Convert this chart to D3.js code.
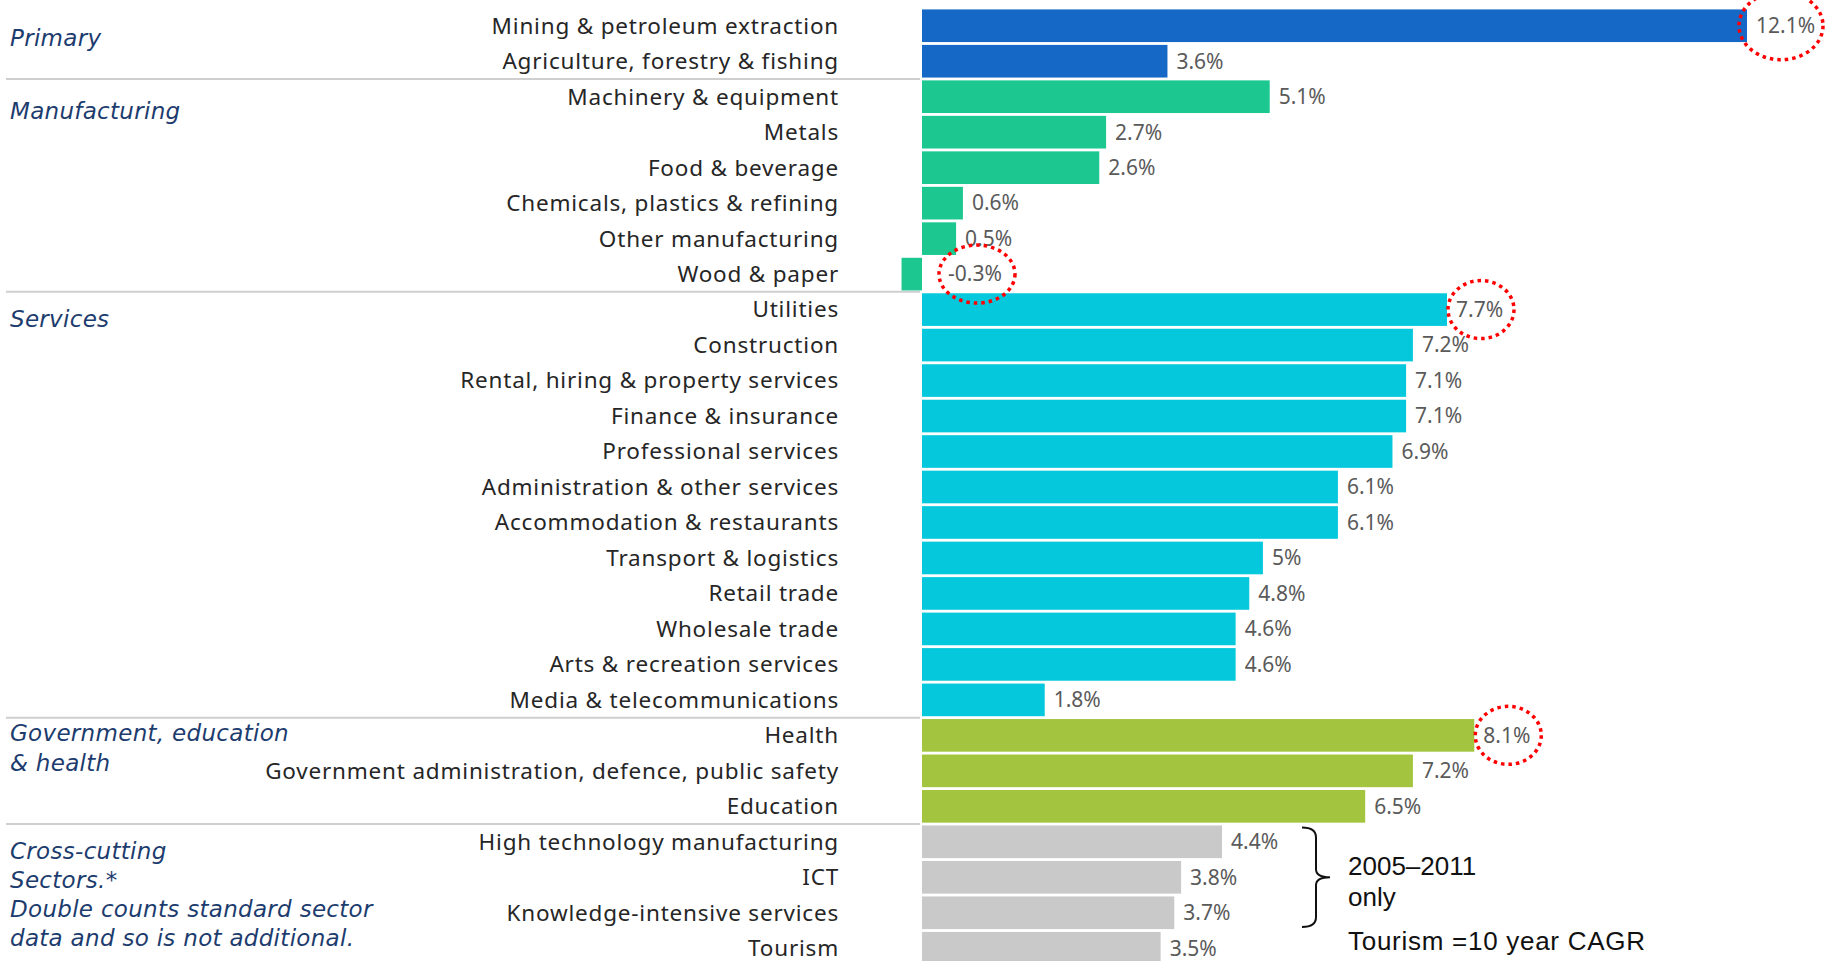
<!DOCTYPE html>
<html>
<head>
<meta charset="utf-8">
<script src="https://cdn.jsdelivr.net/npm/d3@7/dist/d3.min.js"></script>
<style>
  body { margin: 0; background: #fff; }
  svg { display: block; }
</style>
</head>
<body>
<div id="chart"></div>
<script>
// growth rates by sector (CAGR %)
const sectors = [
  "Mining & petroleum extraction", "Agriculture, forestry & fishing",
  "Machinery & equipment", "Metals", "Food & beverage", "Chemicals, plastics & refining",
  "Other manufacturing", "Wood & paper",
  "Utilities", "Construction", "Rental, hiring & property services", "Finance & insurance",
  "Professional services", "Administration & other services", "Accommodation & restaurants",
  "Transport & logistics", "Retail trade", "Wholesale trade", "Arts & recreation services",
  "Media & telecommunications",
  "Health", "Government administration, defence, public safety", "Education",
  "High technology manufacturing", "ICT", "Knowledge-intensive services", "Tourism"
]
const values = [12.1, 3.6, 5.1, 2.7, 2.6, 0.6, 0.5, -0.3, 7.7, 7.2, 7.1, 7.1, 6.9, 6.1, 6.1, 5, 4.8, 4.6, 4.6, 1.8, 8.1, 7.2, 6.5, 4.4, 3.8, 3.7, 3.5]
const groupOf = [0, 0, 1, 1, 1, 1, 1, 1, 2, 2, 2, 2, 2, 2, 2, 2, 2, 2, 2, 2, 3, 3, 3, 4, 4, 4, 4]
const groupNames = [
  ["Primary"],
  ["Manufacturing"],
  ["Services"],
  ["Government, education", "& health"],
  ["Cross-cutting", "Sectors.*", "Double counts standard sector", "data and so is not additional."]
]
const groupColors = ["#1668c6", "#1cc890", "#06c8dc", "#a2c43e", "#c9c9c9"]
const highlighted = ["Mining & petroleum extraction", "Wood & paper", "Utilities", "Health"]
const bracketRows = ["High technology manufacturing", "Knowledge-intensive services"]
const noteLines = ["2005–2011", "only"]
const tourismNote = "Tourism =10 year CAGR"

const width = 1829, height = 961
const svg = d3.select("#chart").append("svg")
  .attr("width", width)
  .attr("height", height)

const x = d3.scaleLinear().domain([0, 12.1]).range([922, 1747])
const y = d3.scaleBand().domain(sectors).range([8, 966]).paddingInner(0.08).paddingOuter(0.04)
const step = y.step()

const rows = sectors.map((s, i) => ({name: s, value: values[i], group: groupOf[i]}))

// separators between groups
const sepRows = rows.filter((d, i) => i > 0 && d.group !== rows[i - 1].group)
svg.append("g")
  .selectAll("line")
  .data(sepRows)
  .join("line")
  .attr("x1", 6)
  .attr("x2", x(0) - 2)
  .attr("y1", d => y(d.name) - step * 0.04)
  .attr("y2", d => y(d.name) - step * 0.04)
  .attr("stroke", "#cfcfcf")
  .attr("stroke-width", 2)

// bars
svg.append("g")
  .selectAll("rect")
  .data(rows)
  .join("rect")
  .attr("x", d => x(Math.min(0, d.value)))
  .attr("width", d => Math.abs(x(d.value) - x(0)))
  .attr("y", d => y(d.name))
  .attr("height", y.bandwidth())
  .attr("fill", d => groupColors[d.group])

// category labels
svg.append("g")
  .attr("font-family", "'Noto Sans', sans-serif")
  .attr("font-size", 22.5)
  .attr("letter-spacing", 0.8)
  .attr("fill", "#262626")
  .attr("text-anchor", "end")
  .selectAll("text")
  .data(rows)
  .join("text")
  .attr("x", 839)
  .attr("y", d => y(d.name) + y.bandwidth() / 2)
  .attr("dy", "0.35em")
  .text(d => d.name)

// value labels
const labelX = d => x(Math.max(0, d.value)) + (d.value < 0 ? 26 : 9)
svg.append("g")
  .attr("font-family", "'Noto Sans', sans-serif")
  .attr("font-size", 21)
  .attr("fill", "#5a5a5a")
  .selectAll("text")
  .data(rows)
  .join("text")
  .attr("x", labelX)
  .attr("y", d => y(d.name) + y.bandwidth() / 2)
  .attr("dy", "0.35em")
  .text(d => d.value + "%")

// group labels
const groupDy = [20, 22, 17, 6, 17]
groupNames.forEach((lines, gi) => {
  const first = rows.find(d => d.group === gi)
  const base = y(first.name) + y.bandwidth() / 2 + groupDy[gi]
  svg.append("text")
    .attr("font-family", "'DejaVu Sans', sans-serif")
    .attr("font-style", "italic")
    .attr("font-size", 23)
    .attr("letter-spacing", 0.3)
    .attr("fill", "#1d3c6e")
    .selectAll("tspan")
    .data(lines)
    .join("tspan")
    .attr("x", 10)
    .attr("y", (l, i) => base + i * 29.2)
    .text(l => l)
})

// dotted circles around highlighted values
svg.append("g")
  .selectAll("ellipse")
  .data(rows.filter(d => highlighted.includes(d.name)))
  .join("ellipse")
  .attr("cx", d => labelX(d) + (d.value < 0 ? 29 : 25))
  .attr("cy", d => y(d.name) + y.bandwidth() / 2)
  .attr("rx", d => d.value >= 10 ? 42 : (d.value < 0 ? 38 : 33))
  .attr("ry", d => d.value >= 10 ? 34 : 29)
  .attr("fill", "none")
  .attr("stroke", "#ff0000")
  .attr("stroke-width", 3.5)
  .attr("stroke-dasharray", "3.5 4")

// bracket for 2005–2011 rows
const by0 = y(bracketRows[0]) + 2
const by1 = y(bracketRows[1]) + y.bandwidth() - 2
const bx = 1302, bw = 14
const bm = (by0 + by1) / 2
svg.append("path")
  .attr("d", `M${bx},${by0} Q${bx + bw},${by0} ${bx + bw},${by0 + 10} L${bx + bw},${bm - 8} Q${bx + bw},${bm} ${bx + bw + 14},${bm} Q${bx + bw},${bm} ${bx + bw},${bm + 8} L${bx + bw},${by1 - 10} Q${bx + bw},${by1} ${bx},${by1}`)
  .attr("fill", "none")
  .attr("stroke", "#111")
  .attr("stroke-width", 2)

svg.append("text")
  .attr("font-family", "Liberation Sans, Arial, sans-serif")
  .attr("font-size", 26)
  .attr("fill", "#111")
  .selectAll("tspan")
  .data(noteLines)
  .join("tspan")
  .attr("x", 1348)
  .attr("y", (l, i) => bm - 2 + i * 31)
  .text(l => l)

svg.append("text")
  .attr("font-family", "Liberation Sans, Arial, sans-serif")
  .attr("font-size", 26)
  .attr("fill", "#111")
  .attr("x", 1348)
  .attr("y", y("Tourism") + y.bandwidth() / 2 + 2)
  .attr("textLength", 297)
  .text(tourismNote)
</script>
</body>
</html>
